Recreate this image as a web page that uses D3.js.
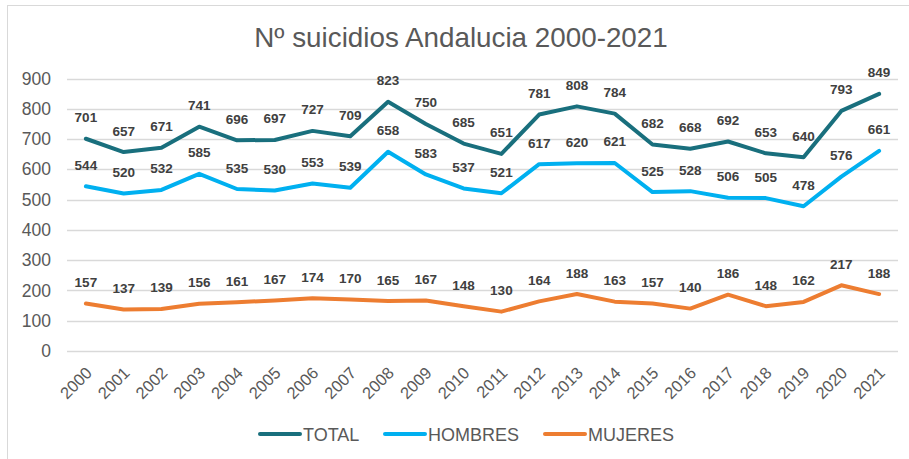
<!DOCTYPE html>
<html>
<head>
<meta charset="utf-8">
<script src="https://cdn.jsdelivr.net/npm/d3@7"></script>
<style>
  body { margin: 0; background: #fff; }
  svg { display: block; font-family: Arial, "Liberation Sans", sans-serif; }
</style>
</head>
<body>
<svg id="chart"></svg>
<script>
// data
var years = ["2000","2001","2002","2003","2004","2005","2006","2007","2008","2009","2010",
             "2011","2012","2013","2014","2015","2016","2017","2018","2019","2020","2021"];
var total   = [701,657,671,741,696,697,727,709,823,750,685,651,781,808,784,682,668,692,653,640,793,849];
var hombres = [544,520,532,585,535,530,553,539,658,583,537,521,617,620,621,525,528,506,505,478,576,661];
var mujeres = [157,137,139,156,161,167,174,170,165,167,148,130,164,188,163,157,140,186,148,162,217,188];
var seriesNames = ["TOTAL", "HOMBRES", "MUJERES"];
var yTicks = [0,100,200,300,400,500,600,700,800,900];

var width = 909;
var height = 459;
var colors = {"TOTAL": "#196f7d", "HOMBRES": "#00b0f0", "MUJERES": "#ed7d31"};

var svg = d3.select("#chart").attr("width", width).attr("height", height);

// chart area border
svg.append("rect")
    .attr("x", 7.5).attr("y", 5.5)
    .attr("width", width).attr("height", height)
    .attr("fill", "none")
    .attr("stroke", "#d9d9d9")
    .attr("stroke-width", 1);

// title
svg.append("text")
    .attr("x", 461).attr("y", 47)
    .attr("text-anchor", "middle")
    .style("font-size", "27.8px")
    .style("fill", "#595959")
    .text("Nº suicidios Andalucia 2000-2021");

var x = d3.scaleBand().domain(years).range([67, 898]);
var y = d3.scaleLinear().domain([0, 900]).range([351, 78.5]);

// gridlines
svg.append("g").selectAll("line")
    .data(yTicks)
    .enter()
    .append("line")
    .attr("x1", 67).attr("x2", 898)
    .attr("y1", function(d){ return Math.round(y(d)) + 0.5; })
    .attr("y2", function(d){ return Math.round(y(d)) + 0.5; })
    .attr("stroke", "#d9d9d9")
    .attr("stroke-width", 1.3);

// y axis labels
var yAxis = d3.axisLeft(y).tickValues(yTicks).tickSize(0).tickPadding(0);
var gy = svg.append("g").attr("transform", "translate(51,0)").call(yAxis);
gy.select(".domain").remove();
gy.selectAll("text")
    .style("font-size", "17.5px")
    .style("font-family", "Arial, 'Liberation Sans', sans-serif")
    .style("fill", "#595959");

// x axis labels, rotated
var xAxis = d3.axisBottom(x).tickSize(0).tickPadding(0);
var gx = svg.append("g").attr("transform", "translate(0,351)").call(xAxis);
gx.select(".domain").remove();
gx.selectAll("text")
    .attr("text-anchor", "end")
    .attr("dy", 0)
    .attr("transform", "translate(7,23) rotate(-45)")
    .style("font-size", "16.5px")
    .style("font-family", "Arial, 'Liberation Sans', sans-serif")
    .style("fill", "#595959");

var series = [
    {name: "TOTAL", values: total},
    {name: "HOMBRES", values: hombres},
    {name: "MUJERES", values: mujeres}
];

var line = d3.line()
    .x(function(d, i){ return x(years[i]) + x.bandwidth() / 2; })
    .y(function(d){ return y(d); });

svg.append("g").selectAll("path")
    .data(series)
    .enter()
    .append("path")
    .attr("d", function(s){ return line(s.values); })
    .attr("fill", "none")
    .attr("stroke", function(s){ return colors[s.name]; })
    .attr("stroke-width", 4)
    .attr("stroke-linejoin", "round")
    .attr("stroke-linecap", "round");

// data labels above points
series.forEach(function(s){
    svg.append("g").selectAll("text")
        .data(s.values)
        .enter()
        .append("text")
        .attr("x", function(d, i){ return x(years[i]) + x.bandwidth() / 2; })
        .attr("y", function(d){ return y(d) - 16.5; })
        .attr("text-anchor", "middle")
        .style("font-size", "13.5px")
        .style("font-weight", "bold")
        .style("fill", "#404040")
        .text(function(d){ return d; });
});

// legend
var legendX = [260, 385, 545];
var legend = svg.append("g").selectAll("g")
    .data(seriesNames)
    .enter()
    .append("g")
    .attr("transform", function(d, i){ return "translate(" + legendX[i] + ",434)"; });
legend.append("line")
    .attr("x1", 0).attr("x2", 40)
    .attr("y1", 0).attr("y2", 0)
    .attr("stroke", function(d){ return colors[d]; })
    .attr("stroke-width", 4)
    .attr("stroke-linecap", "round");
legend.append("text")
    .attr("x", 43).attr("y", 6.5)
    .style("font-size", "18px")
    .style("fill", "#595959")
    .text(function(d){ return d; });
</script>
</body>
</html>
